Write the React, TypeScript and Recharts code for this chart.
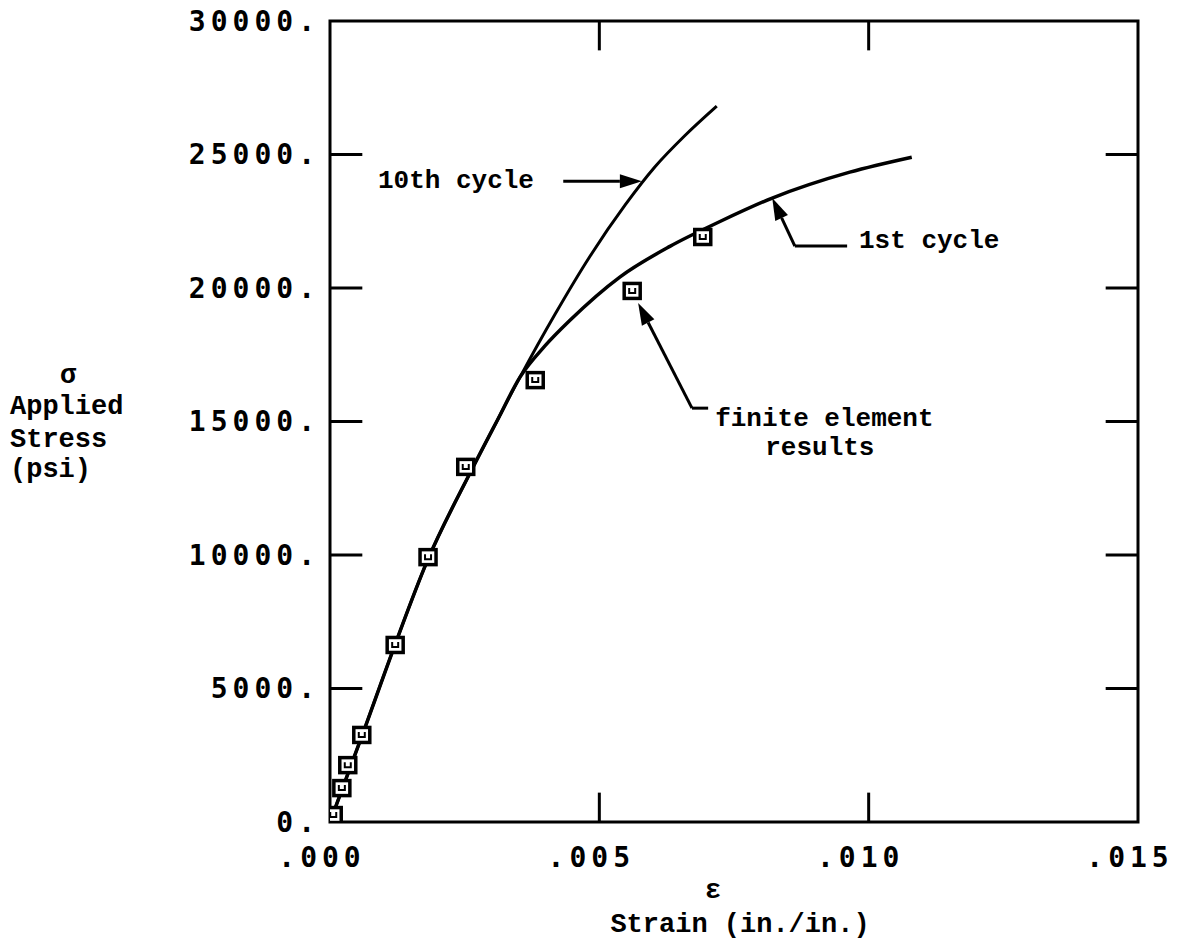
import React from 'react';
import {
  ComposedChart,
  Line,
  Scatter,
  XAxis,
  YAxis,
  ReferenceLine,
  ReferenceArea,
  ReferenceDot,
  Label,
} from 'recharts';

// ---- axis ticks ----
const xTicks = [0, 0.005, 0.01, 0.015];
const xTickLabels = ['.000', '.005', '.010', '.015'];
const yTicks = [0, 5000, 10000, 15000, 20000, 25000, 30000];
const yTickLabels = ['0.', '5000.', '10000.', '15000.', '20000.', '25000.', '30000.'];

// ---- finite element results (squares) ----
const feStrain = [0.00006, 0.00022, 0.00033, 0.00059, 0.00121, 0.00182, 0.00252, 0.00381, 0.00561, 0.00692];
const feStress = [260, 1270, 2130, 3260, 6630, 9920, 13300, 16550, 19890, 21910];

// ---- 1st cycle curve ----
const c1Strain = [0, 0.0006, 0.0012, 0.0018, 0.0026, 0.0031, 0.00353, 0.00399, 0.00446, 0.00538, 0.00631, 0.00724, 0.00821, 0.00965, 0.0108];
const c1Stress = [0, 3260, 6600, 9750, 13070, 15020, 16670, 17830, 18800, 20410, 21560, 22490, 23370, 24340, 24900];

// ---- 10th cycle curve ----
const c10Strain = [0, 0.0006, 0.0012, 0.0018, 0.0026, 0.0031, 0.00353, 0.00418, 0.00483, 0.00548, 0.00603, 0.00659, 0.00718];
const c10Stress = [0, 3260, 6600, 9750, 13070, 15020, 16670, 19025, 21200, 23110, 24530, 25710, 26810];

const feData = feStrain.map((x, i) => ({ x, y: feStress[i] }));
const c1Data = c1Strain.map((x, i) => ({ x, y: c1Stress[i] }));
const c10Data = c10Strain.map((x, i) => ({ x, y: c10Stress[i] }));

const X_MAX = 0.015;
const Y_MAX = 30000;
const TICK_LEN_X = 0.0006; // inward tick length in strain units
const TICK_LEN_Y = 1100; // inward tick length in stress units

const TICK_FONT = 'DejaVu Sans Mono, monospace';
const TYPE_FONT = 'Liberation Mono, Courier New, monospace';

const tickStyle = {
  fontSize: 28,
  fontFamily: TICK_FONT,
  fontWeight: 700,
  letterSpacing: 5,
  fill: '#000',
  style: { fontVariantNumeric: 'slashed-zero' },
};

function ArrowLine(p: any) {
  const { x1, y1, x2, y2 } = p;
  const ang = Math.atan2(y2 - y1, x2 - x1);
  const L = 22;
  const W = 7;
  const bx = x2 - L * Math.cos(ang);
  const by = y2 - L * Math.sin(ang);
  const px = -Math.sin(ang) * W;
  const py = Math.cos(ang) * W;
  return (
    <g>
      <line x1={x1} y1={y1} x2={bx} y2={by} stroke="#000" strokeWidth={3} />
      <polygon points={`${x2},${y2} ${bx + px},${by + py} ${bx - px},${by - py}`} fill="#000" />
    </g>
  );
}

function PlainLine(p: any) {
  const { x1, y1, x2, y2 } = p;
  return <line x1={x1} y1={y1} x2={x2} y2={y2} stroke="#000" strokeWidth={3} />;
}

function SquareMark(p: any) {
  const { cx, cy } = p;
  if (cx == null || cy == null) return null;
  return (
    <g>
      <rect x={cx - 8} y={cy - 7.5} width={16} height={15} fill="#fff" stroke="#000" strokeWidth={3.5} />
      <path d={`M${cx - 3},${cy - 3} L${cx - 3},${cy + 2} L${cx + 3},${cy + 2} L${cx + 3},${cy - 3}`} fill="none" stroke="#000" strokeWidth={2} />
    </g>
  );
}

const annText = (label: string) => (p: any) => {
  const { cx, cy } = p;
  return (
    <text x={cx} y={cy} fontFamily={TYPE_FONT} fontSize={26} fontWeight={700} fill="#000">
      {label}
    </text>
  );
};

function YTitle(props: any) {
  const vb = props.viewBox || { x: 0, y: 21, width: 330, height: 801 };
  const cy = vb.y + vb.height / 2;
  const left = vb.x + 10;
  return (
    <g fontFamily={TYPE_FONT} fontSize={27} fontWeight={700} fill="#000">
      <text x={vb.x + 68} y={cy - 39} textAnchor="middle">σ</text>
      <text x={left} y={cy - 8}>Applied</text>
      <text x={left} y={cy + 25}>Stress</text>
      <text x={left} y={cy + 55}>(psi)</text>
    </g>
  );
}

function XTitle(props: any) {
  const vb = props.viewBox || { x: 330, y: 822, width: 808, height: 60 };
  return (
    <g fontFamily={TYPE_FONT} fontSize={27} fontWeight={700} fill="#000">
      <text x={vb.x + 383} y={vb.y + 76} textAnchor="middle">ε</text>
      <text x={vb.x + 410} y={vb.y + 110} textAnchor="middle">Strain (in./in.)</text>
    </g>
  );
}

export default function App() {
  return (
    <div style={{ position: 'absolute', left: 0, top: 0, background: '#fff' }}>
      <ComposedChart width={1191} height={945} margin={{ top: 21, right: 53, bottom: 63, left: 0 }}>
        <XAxis
          type="number"
          dataKey="x"
          domain={[0, X_MAX]}
          ticks={xTicks}
          allowDataOverflow
          height={60}
          axisLine={false}
          tickLine={false}
          tickSize={0}
          tickMargin={25}
          tick={{ ...tickStyle, dx: -8 }}
          tickFormatter={(v: number) => xTickLabels[xTicks.indexOf(v)] ?? ''}
          label={<Label content={XTitle} />}
        />
        <YAxis
          type="number"
          dataKey="y"
          domain={[0, Y_MAX]}
          ticks={yTicks}
          allowDataOverflow
          width={330}
          axisLine={false}
          tickLine={false}
          tickSize={0}
          tickMargin={10}
          tick={tickStyle}
          tickFormatter={(v: number) => yTickLabels[yTicks.indexOf(v)] ?? ''}
          label={<Label content={YTitle} />}
        />

        <ReferenceArea x1={0} x2={X_MAX} y1={0} y2={Y_MAX} fill="none" stroke="#000" strokeWidth={3} fillOpacity={0} />

        {yTicks.slice(1, -1).map((t) => (
          <ReferenceLine key={`l${t}`} segment={[{ x: 0, y: t }, { x: TICK_LEN_X, y: t }]} stroke="#000" strokeWidth={3} />
        ))}
        {yTicks.slice(1, -1).map((t) => (
          <ReferenceLine key={`r${t}`} segment={[{ x: X_MAX, y: t }, { x: X_MAX - TICK_LEN_X, y: t }]} stroke="#000" strokeWidth={3} />
        ))}
        {xTicks.slice(1, -1).map((t) => (
          <ReferenceLine key={`b${t}`} segment={[{ x: t, y: 0 }, { x: t, y: TICK_LEN_Y }]} stroke="#000" strokeWidth={3} />
        ))}
        {xTicks.slice(1, -1).map((t) => (
          <ReferenceLine key={`t${t}`} segment={[{ x: t, y: Y_MAX }, { x: t, y: Y_MAX - TICK_LEN_Y }]} stroke="#000" strokeWidth={3} />
        ))}

        <Line data={c10Data} dataKey="y" type="monotone" stroke="#000" strokeWidth={3} dot={false} isAnimationActive={false} />
        <Line data={c1Data} dataKey="y" type="monotone" stroke="#000" strokeWidth={3.5} dot={false} isAnimationActive={false} />
        <Scatter data={feData} dataKey="y" shape={SquareMark} isAnimationActive={false} />

        {/* 10th cycle annotation */}
        <ReferenceLine segment={[{ x: 0.00433, y: 24000 }, { x: 0.00579, y: 24000 }]} shape={ArrowLine} />
        <ReferenceDot x={0.00089} y={23740} r={0} shape={annText('10th cycle')} />

        {/* 1st cycle annotation */}
        <ReferenceLine segment={[{ x: 0.0096, y: 21570 }, { x: 0.00863, y: 21570 }]} shape={PlainLine} />
        <ReferenceLine segment={[{ x: 0.00863, y: 21570 }, { x: 0.00821, y: 23370 }]} shape={ArrowLine} />
        <ReferenceDot x={0.00982} y={21500} r={0} shape={annText('1st cycle')} />

        {/* finite element results annotation */}
        <ReferenceLine segment={[{ x: 0.00702, y: 15500 }, { x: 0.00672, y: 15500 }]} shape={PlainLine} />
        <ReferenceLine segment={[{ x: 0.00672, y: 15500 }, { x: 0.00572, y: 19440 }]} shape={ArrowLine} />
        <ReferenceDot x={0.00715} y={14830} r={0} shape={annText('finite element')} />
        <ReferenceDot x={0.00808} y={13740} r={0} shape={annText('results')} />
      </ComposedChart>
    </div>
  );
}
